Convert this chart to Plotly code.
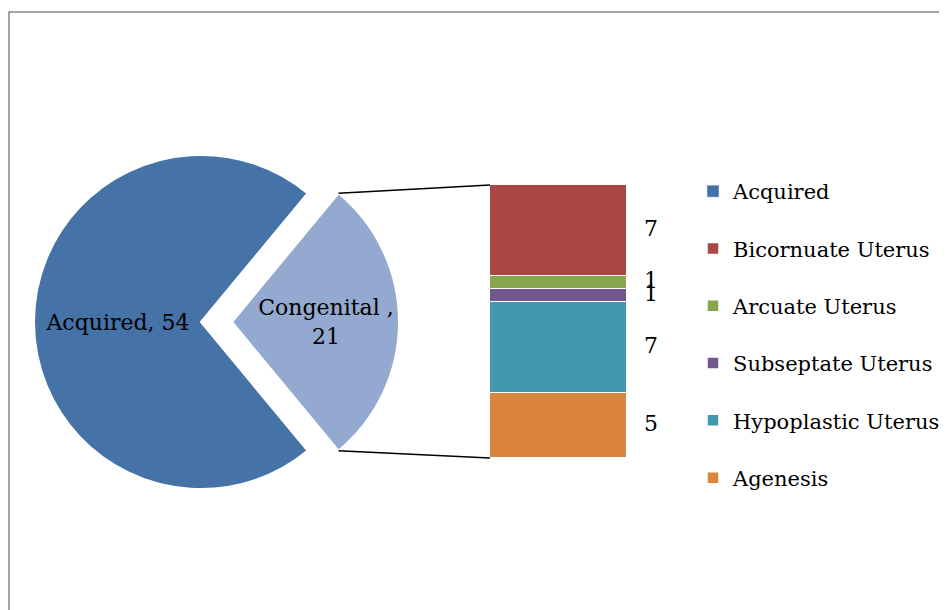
import numpy as np
import plotly.graph_objects as go

# data
main_labels = ["Acquired", "Congenital"]
main_values = [54, 21]
main_colors = ["#4572A7", "#93A9CF"]

sub_labels = ["Bicornuate Uterus", "Arcuate Uterus", "Subseptate Uterus",
              "Hypoplastic Uterus", "Agenesis"]
sub_values = [7, 1, 1, 7, 5]
sub_colors = ["#AA4643", "#89A54E", "#71588F", "#4198AF", "#DB843D"]

# the page body has an 8px margin, so the figure is a bit smaller than the window
OFF = 8
W, H = 947 - OFF, 610 - OFF
FONT = "DejaVu Serif"
CLEAR = "rgba(0,0,0,0)"


def px(x):
    return (x - OFF) / W


def py(y):
    return 1 - (y - OFF) / H


# pie geometry (window pixels); the congenital wedge is drawn as a second,
# shifted pie so that the "exploded" look does not shrink the radius
pie_cx, pie_cy, pie_r = 201, 322, 167
shift = 31

total = sum(main_values)
cong_share = main_values[1] / total
half_angle = np.pi * cong_share  # half of the congenital wedge, radians
rot = 90 + 180 * cong_share

fig = go.Figure()

for k, cx in enumerate([pie_cx, pie_cx + shift]):
    cols = [c if j == k else CLEAR for j, c in enumerate(main_colors)]
    widths = [2 if j == k else 0 for j in range(len(main_colors))]
    tmpl = ["%{label}, %{value}", "%{label} ,<br>%{value}"]
    tmpl = [t if j == k else " " for j, t in enumerate(tmpl)]
    fig.add_trace(go.Pie(
        labels=main_labels, values=main_values, sort=False,
        direction="clockwise", rotation=rot,
        marker=dict(colors=cols, line=dict(color="white", width=widths)),
        texttemplate=tmpl,
        textposition="inside", insidetextorientation="horizontal",
        insidetextfont=dict(family=FONT, size=22, color="black"),
        domain=dict(x=[px(cx - pie_r), px(cx + pie_r)],
                    y=[py(pie_cy + pie_r), py(pie_cy - pie_r)]),
        showlegend=False, hoverinfo="label+value",
    ))

# legend entry for the pie's Acquired slice
fig.add_trace(go.Bar(x=[None], y=[None], name="Acquired",
                     marker_color=main_colors[0], legendgroup="g0", legendrank=1))

# stacked bar, built bottom-up
bottoms = np.concatenate([[0], np.cumsum(sub_values[::-1])[:-1]])[::-1]
for i in reversed(range(len(sub_labels))):
    fig.add_trace(go.Bar(
        x=[0], y=[sub_values[i]], name=sub_labels[i], width=1,
        marker=dict(color=sub_colors[i], line=dict(color="white", width=1.5)),
        legendgroup="g%d" % (i + 1), legendrank=i + 2,
    ))

mids = bottoms + np.array(sub_values) / 2
fig.add_trace(go.Scatter(
    x=[0.675] * len(sub_values), y=mids, mode="text",
    text=[str(v) for v in sub_values], cliponaxis=False,
    textfont=dict(family=FONT, size=22, color="black"),
    showlegend=False, hoverinfo="skip",
))

# bar placement (window pixels)
bar_l, bar_r, bar_t, bar_b = 490, 627, 185, 458
axis_r = 690
bar_total = sum(sub_values)

# connector lines from the pulled wedge to the bar
wx = pie_cx + shift + pie_r * np.cos(half_angle)
wy_top = pie_cy - pie_r * np.sin(half_angle)
wy_bot = pie_cy + pie_r * np.sin(half_angle)
shapes = [
    dict(type="line", xref="paper", yref="paper", x0=px(wx), y0=py(wy_top),
         x1=px(bar_l), y1=py(bar_t), line=dict(color="black", width=1.5)),
    dict(type="line", xref="paper", yref="paper", x0=px(wx), y0=py(wy_bot),
         x1=px(bar_l), y1=py(bar_b), line=dict(color="black", width=1.5)),
    # outer frame
    dict(type="rect", xref="paper", yref="paper", x0=1 / W, y0=-0.1, x1=1.1,
         y1=py(12), line=dict(color="#878787", width=1.5), layer="below"),
]

fig.update_layout(
    width=W, height=H, margin=dict(l=0, r=0, t=0, b=0, autoexpand=False),
    paper_bgcolor="white", plot_bgcolor=CLEAR,
    barmode="stack", bargap=0,
    xaxis=dict(domain=[px(bar_l), px(axis_r)],
               range=[-0.5, -0.5 + (axis_r - bar_l) / (bar_r - bar_l)],
               visible=False, fixedrange=True),
    yaxis=dict(domain=[py(bar_b), py(bar_t)], range=[0, bar_total],
               visible=False, fixedrange=True),
    shapes=shapes,
    legend=dict(x=px(693), y=py(171), xanchor="left", yanchor="top",
                traceorder="grouped", tracegroupgap=27,
                font=dict(family=FONT, size=21, color="black"),
                bgcolor=CLEAR),
)

fig.write_html("out.html")
